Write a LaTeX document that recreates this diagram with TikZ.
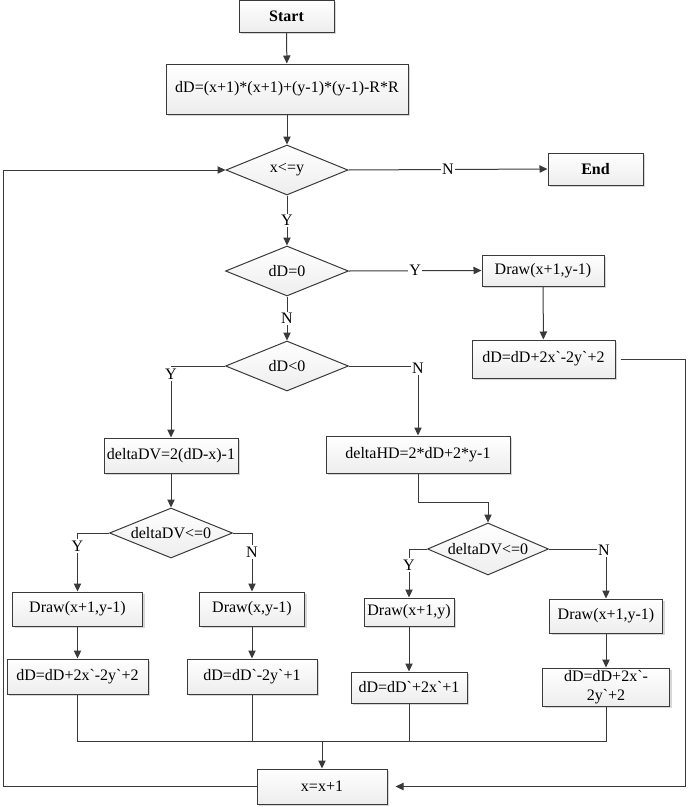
\documentclass[tikz,border=0pt]{standalone}
\usepackage{fontspec}
\setmainfont{Liberation Serif}[Ligatures=TeXOff]
\usetikzlibrary{arrows.meta,shapes.geometric,shadows}
\definecolor{linec}{HTML}{3A3A3A}
\tikzset{
  txt/.style={font=\fontsize{12pt}{14.4pt}\selectfont},
  sz/.style 2 args={minimum width=#1*0.75pt, minimum height=#2*0.75pt},
  box/.style={draw=linec, line width=0.75pt, rectangle, inner sep=0pt, txt,
    top color=white, bottom color=gray!14, align=center,
    drop shadow={shadow xshift=1.5pt, shadow yshift=-1.5pt, fill=gray!45, opacity=0.7}},
  dia/.style={draw=linec, line width=0.75pt, diamond, aspect=2.4, inner sep=0pt, txt,
    top color=white, bottom color=gray!14},
  lbl/.style={fill=white, inner sep=1pt, txt},
  conn/.style={draw=linec, line width=0.75pt},
  arr/.style={conn, -{Triangle[length=6pt,width=5.5pt]}, fill=none}
}
\begin{document}
\begin{tikzpicture}[x=0.75pt,y=-0.75pt]
\useasboundingbox (0,0) rectangle (688,807);
% nodes
\node[box,sz={95}{32},font=\fontsize{12pt}{14.4pt}\selectfont\bfseries] (start) at (286.5,16) {Start};
\node[box,sz={242}{50}] (init) at (287,89) {dD=(x+1)*(x+1)+(y-1)*(y-1)-R*R};
\node[dia,sz={122}{50}] (c1) at (287,170) {x<=y};
\node[box,sz={95}{32},font=\fontsize{12pt}{14.4pt}\selectfont\bfseries] (endn) at (595.5,169) {End};
\node[dia,sz={123}{50}] (c2) at (287,271) {dD=0};
\node[box,sz={122}{31}] (d1) at (543,270.5) {Draw(x+1,y-1)};
\node[box,sz={143}{38}] (u1) at (543.5,359) {dD=dD+2x`-2y`+2};
\node[dia,sz={123}{50}] (c3) at (287,366) {dD<0};
\node[box,sz={134}{35}] (dv) at (171,455.5) {deltaDV=2(dD-x)-1};
\node[box,sz={184}{37}] (hd) at (418,454.5) {deltaHD=2*dD+2*y-1};
\node[dia,sz={123}{50}] (c4) at (171,533) {deltaDV<=0};
\node[dia,sz={121}{52}] (c5) at (488,549) {deltaDV<=0};
\node[box,sz={130}{34}] (a1) at (77.5,609) {Draw(x+1,y-1)};
\node[box,sz={141}{35}] (b1) at (77.5,676.5) {dD=dD+2x`-2y`+2};
\node[box,sz={105}{34}] (a2) at (252,609) {Draw(x,y-1)};
\node[box,sz={130}{35}] (b2) at (252,676.5) {dD=dD`-2y`+1};
\node[box,sz={90}{28}] (a3) at (409,612) {Draw(x+1,y)};
\node[box,sz={116}{31}] (b3) at (409,687.5) {dD=dD`+2x`+1};
\node[box,sz={113}{34}] (a4) at (606,616) {Draw(x+1,y-1)};
\node[box,sz={127}{38}] (b4) at (606,687) {dD=dD+2x`-\\2y`+2};
\node[box,sz={130}{35}] (inc) at (322,786.5) {x=x+1};
% helper coordinates
\coordinate (k3l) at (171,366);
\coordinate (k3r) at (418,366);
\coordinate (kh1) at (418,502);
\coordinate (kh2) at (488,502);
\coordinate (k4l) at (77.5,533);
\coordinate (k4r) at (252,533);
\coordinate (k5l) at (409,549);
\coordinate (k5r) at (606,549);
\coordinate (m) at (322,741);
\coordinate (lb) at (3,786.5);
\coordinate (lt) at (3,170);
\coordinate (rt) at (685,359);
\coordinate (rb) at (685,786.5);
% connectors
\draw[arr] (start) -- (init);
\draw[arr] (init) -- (c1);
\draw[arr] (c1.east) -- node[lbl]{N} (endn.west);
\draw[arr] (c1.south) -- node[lbl]{Y} (c2.north);
\draw[arr] (c2.east) -- node[lbl]{Y} (d1.west);
\draw[arr] (d1) -- (u1);
\draw[arr] (c2.south) -- node[lbl]{N} (c3.north);
\draw[arr] (c3.west) -- (k3l) -- (dv.north);
\node[lbl] (ly3) at (171,374) {Y};
\draw[arr] (c3.east) -- (k3r) -- (hd.north);
\node[lbl] (ln3) at (418,368) {N};
\draw[arr] (dv) -- (c4);
\draw[arr] (hd.south) -- (kh1) -- (kh2) -- (c5.north);
\draw[arr] (c4.west) -- (k4l) -- (a1.north);
\node[lbl] (ly4) at (77.5,546) {Y};
\draw[arr] (c4.east) -- (k4r) -- (a2.north);
\node[lbl] (ln4) at (252,552) {N};
\draw[arr] (c5.west) -- (k5l) -- (a3.north);
\node[lbl] (ly5) at (409,565) {Y};
\draw[arr] (c5.east) -- (k5r) -- (a4.north);
\node[lbl] (ln5) at (604,550) {N};
\draw[arr] (a1) -- (b1);
\draw[arr] (a2) -- (b2);
\draw[arr] (a3) -- (b3);
\draw[arr] (a4) -- (b4);
\draw[conn] (b1.south) |- (m);
\draw[conn] (b2.south) |- (m);
\draw[conn] (b3.south) |- (m);
\draw[conn] (b4.south) |- (m);
\draw[arr] (m) -- (inc.north);
\draw[arr] (inc.west) -- (lb) -- (lt) -- (c1.west);
\draw[arr, shorten <=3.75pt, shorten >=6pt] (u1.east) -- (rt) -- (rb) -- (inc.east);
\end{tikzpicture}
\end{document}
